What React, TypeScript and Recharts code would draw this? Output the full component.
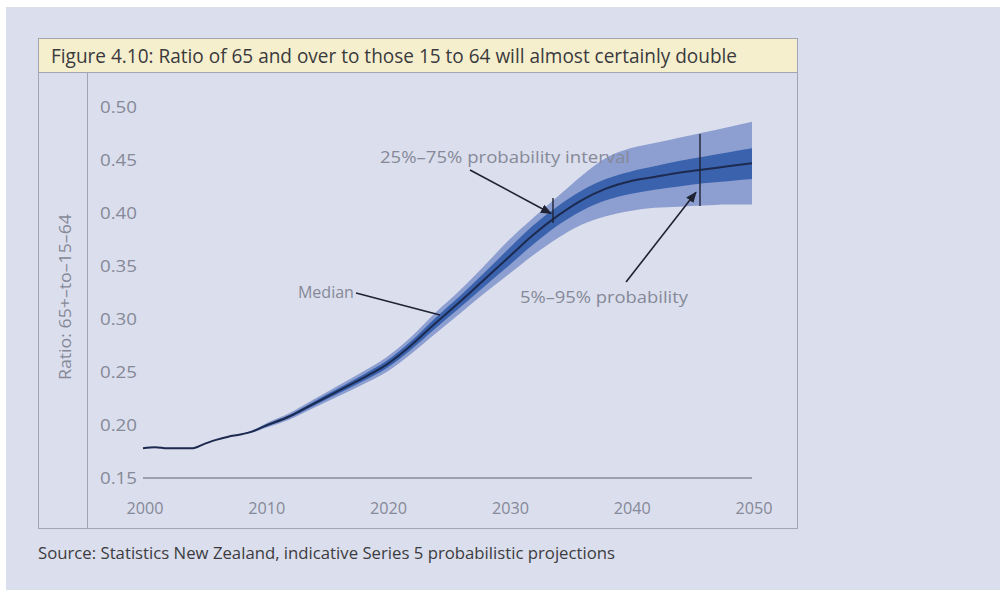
import React from "react";
import { ComposedChart, Area, Line, XAxis, YAxis, ReferenceLine, ReferenceDot } from "recharts";

// years: annual to 2010, then every second year
const years = [2000, 2001, 2002, 2003, 2004, 2005, 2006, 2007, 2008, 2009, 2010, 2012, 2014, 2016, 2018, 2020, 2022, 2024, 2026, 2028, 2030, 2032, 2034, 2036, 2038, 2040, 2042, 2044, 2046, 2048, 2050];
const median = [0.178, 0.179, 0.178, 0.178, 0.178, 0.182, 0.186, 0.189, 0.191, 0.194, 0.199, 0.208, 0.22, 0.232, 0.244, 0.257, 0.275, 0.296, 0.316, 0.337, 0.358, 0.379, 0.397, 0.412, 0.423, 0.43, 0.434, 0.438, 0.441, 0.444, 0.447];
// probability bands start in 2008 (null before)
const p95 = [null, null, null, null, null, null, null, null, 0.191, 0.195, 0.201, 0.211, 0.224, 0.237, 0.25, 0.264, 0.283, 0.306, 0.327, 0.35, 0.374, 0.395, 0.415, 0.435, 0.452, 0.461, 0.466, 0.471, 0.476, 0.481, 0.486];
const p5 = [null, null, null, null, null, null, null, null, 0.191, 0.193, 0.197, 0.205, 0.216, 0.227, 0.238, 0.25, 0.267, 0.286, 0.305, 0.324, 0.342, 0.36, 0.376, 0.389, 0.397, 0.402, 0.405, 0.406, 0.407, 0.408, 0.408];
const p75 = [null, null, null, null, null, null, null, null, 0.191, 0.1945, 0.2, 0.2095, 0.222, 0.2345, 0.247, 0.2605, 0.279, 0.301, 0.3215, 0.3435, 0.366, 0.388, 0.406, 0.421, 0.432, 0.439, 0.444, 0.449, 0.453, 0.457, 0.461];
const p25 = [null, null, null, null, null, null, null, null, 0.191, 0.1935, 0.198, 0.2065, 0.218, 0.2295, 0.241, 0.2535, 0.271, 0.291, 0.3105, 0.3305, 0.35, 0.37, 0.388, 0.402, 0.412, 0.418, 0.422, 0.425, 0.428, 0.43, 0.432];

const xTicks = [2000, 2010, 2020, 2030, 2040, 2050];
const yTicks = [0.15, 0.2, 0.25, 0.3, 0.35, 0.4, 0.45, 0.5];

const data = years.map((year, i) => ({
  year,
  median: median[i],
  outer: p5[i] == null ? null : [p5[i], p95[i]],
  inner: p25[i] == null ? null : [p25[i], p75[i]],
}));

const GREY = "#858998";
const BORDER = "#a2a6b4";
const FONT = '"Open Sans", sans-serif';

const noteText = (anchor: "start" | "end", text: string, len: number) => (p: any) => (
  <text x={p.cx} y={p.cy} textAnchor={anchor} dominantBaseline="central" fill={GREY} fontSize={16} fontFamily={FONT} textLength={len} lengthAdjust="spacingAndGlyphs">
    {text}
  </text>
);

const arrowLine = (p: any) => (
  <line x1={p.x1} y1={p.y1} x2={p.x2} y2={p.y2} stroke="#1f2233" strokeWidth={1.6} markerEnd="url(#arrowHead)" />
);
const plainLine = (p: any) => (
  <line x1={p.x1} y1={p.y1} x2={p.x2} y2={p.y2} stroke="#1f2233" strokeWidth={1.4} />
);

export default function App() {
  return (
    <div style={{ position: "absolute", left: 0, top: 0, width: 1000, height: 590, background: "#fff", overflow: "hidden", fontFamily: FONT }}>
      <svg width={0} height={0} style={{ position: "absolute" }}>
        <defs>
          <marker id="arrowHead" viewBox="0 0 10 10" refX="9" refY="5" markerWidth="7" markerHeight="7" orient="auto">
            <path d="M0,1 L10,5 L0,9 z" fill="#1f2233" />
          </marker>
        </defs>
      </svg>
      <div style={{ position: "absolute", left: 6, top: 7, right: 0, bottom: 0, background: "#dbdeec" }} />
      {/* panel frame */}
      <div style={{ position: "absolute", left: 38, top: 38, width: 760, height: 491, border: `1px solid ${BORDER}`, boxSizing: "border-box" }} />
      <div style={{ position: "absolute", left: 39, top: 39, width: 758, height: 33, background: "#f6efcd", borderBottom: `1px solid ${BORDER}` }} />
      <div style={{ position: "absolute", left: 87, top: 73, width: 1, height: 455, background: BORDER }} />

      <svg width={1000} height={590} style={{ position: "absolute", left: 0, top: 0 }}>
        <text x={51} y={63} fontSize={19.5} fill="#3a3a3e" fontFamily={FONT} textLength={686} lengthAdjust="spacingAndGlyphs">
          Figure 4.10: Ratio of 65 and over to those 15 to 64 will almost certainly double
        </text>
        <text x={65} y={297} transform="rotate(-90 65 297)" textAnchor="middle" dominantBaseline="central" fontSize={16} fill={GREY} fontFamily={FONT} textLength={166} lengthAdjust="spacingAndGlyphs">
          Ratio: 65+–to–15–64
        </text>
        <text x={38} y={559} fontSize={16.5} fill="#3c3c40" fontFamily={FONT} textLength={577} lengthAdjust="spacingAndGlyphs">
          Source: Statistics New Zealand, indicative Series 5 probabilistic projections
        </text>
      </svg>

      <div style={{ position: "absolute", left: 88, top: 72 }}>
        <ComposedChart width={709} height={456} data={data} margin={{ top: 35, right: 45, left: 0, bottom: 20 }}>
          <XAxis
            dataKey="year"
            type="number"
            domain={[2000, 2050]}
            ticks={xTicks}
            tickLine={false}
            tickSize={0}
            height={30}
            axisLine={{ stroke: "#5e6170", strokeWidth: 1.2 }}
            tick={(props: any) => (
              <text x={props.x + 2} y={props.y + 28} textAnchor="middle" dominantBaseline="central" fill={GREY} fontSize={16} fontFamily={FONT} textLength={37} lengthAdjust="spacingAndGlyphs">
                {props.payload.value}
              </text>
            )}
          />
          <YAxis
            type="number"
            domain={[0.15, 0.5]}
            ticks={yTicks}
            width={55}
            axisLine={false}
            tickLine={false}
            tick={(props: any) => (
              <text x={12} y={props.y} textAnchor="start" dominantBaseline="central" fill={GREY} fontSize={16} fontFamily={FONT} textLength={37} lengthAdjust="spacingAndGlyphs">
                {Number(props.payload.value).toFixed(2)}
              </text>
            )}
          />
          <Area type="monotone" dataKey="outer" stroke="none" fill="#8d9ed0" fillOpacity={1} isAnimationActive={false} connectNulls={false} />
          <Area type="monotone" dataKey="inner" stroke="none" fill="#3a62ad" fillOpacity={1} isAnimationActive={false} connectNulls={false} />
          <Line type="monotone" dataKey="median" stroke="#1d2a50" strokeWidth={2} dot={false} isAnimationActive={false} />

          <ReferenceLine segment={[{ x: 2033.66, y: 0.4142 }, { x: 2033.66, y: 0.3906 }]} shape={plainLine} />
          <ReferenceLine segment={[{ x: 2045.73, y: 0.4745 }, { x: 2045.73, y: 0.4066 }]} shape={plainLine} />
          <ReferenceLine segment={[{ x: 2026.85, y: 0.4406 }, { x: 2033.5, y: 0.3995 }]} shape={arrowLine} />
          <ReferenceLine segment={[{ x: 2039.66, y: 0.3349 }, { x: 2045.4, y: 0.4195 }]} shape={arrowLine} />
          <ReferenceLine segment={[{ x: 2017.49, y: 0.3245 }, { x: 2024.38, y: 0.3038 }]} shape={plainLine} />

          <ReferenceDot x={2019.46} y={0.4528} r={0} shape={noteText("start", "25%–75% probability interval", 250)} />
          <ReferenceDot x={2017.32} y={0.3255} r={0} shape={noteText("end", "Median", 56)} />
          <ReferenceDot x={2030.95} y={0.3208} r={0} shape={noteText("start", "5%–95% probability", 168)} />
        </ComposedChart>
      </div>
    </div>
  );
}
